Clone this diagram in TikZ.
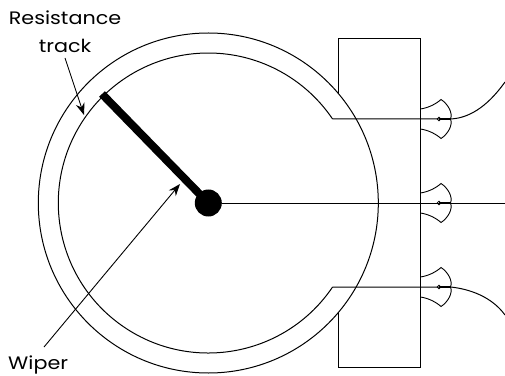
\documentclass[tikz,border=0pt]{standalone}
\usepackage{fontspec}
\setmainfont{Poppins}
\usetikzlibrary{arrows.meta, positioning, calc}
\tikzset{
  wire/.style={line width=1pt},
  pointer/.style={line width=0.9pt, -{Stealth[length=12pt, width=9pt, inset=4pt]}},
  caption/.style={font=\fontsize{18}{20}\selectfont, xscale=1.15, inner sep=0pt},
  lobe/.style={line width=0.9pt},
}
\begin{document}
\begin{tikzpicture}[x=1pt, y=1pt]
  \useasboundingbox (0,0) rectangle (505,375);
  \coordinate (centre) at (208.3,172);
  % two track edges
  \draw[wire] (centre) circle[radius=170];
  \coordinate (innerlow) at ($(centre)+(-34.06:150)$);
  \coordinate (innerup) at ($(centre)+(34.06:150)$);
  \draw[wire] (innerlow) arc[start angle=-34.06, end angle=-325.94, radius=150];
  % body at the right
  \draw[wire] (338.3,282) -- (338.3,336) -- (420.3,336) -- (420.3,7.3) -- (338.3,7.3) -- (338.3,63.3);
  % wires and terminals
  \coordinate (rightup) at (505,293);
  \coordinate (rightmid) at (505,172);
  \coordinate (rightlow) at (505,60);
  \foreach \name/\py in {up/256, mid/172, low/88}{%
    \coordinate (term\name) at (450.5,\py);
    \coordinate (pin\name) at (439,\py);
    \draw[lobe] (420.3,\py+10) .. controls (428,\py+11) and (436,\py+15) .. (441,\py+19.5)
      .. controls (448,\py+15) and (453,\py+6) .. (term\name)
      .. controls (453,\py-6) and (448,\py-15) .. (441,\py-19.5)
      .. controls (436,\py-15) and (428,\py-11) .. (420.3,\py-10);
    \draw[line width=0.7pt] (pin\name) circle[radius=1.8];
    \draw[line width=1.3pt] (pin\name) -- (term\name);}
  \draw[wire] (innerup) -- (termup) .. controls (472,257) and (490,272) .. (rightup);
  \draw[wire] (innerlow) -- (termlow) .. controls (470,86) and (492,78) .. (rightlow);
  % wiper
  \node[circle, fill=black, minimum size=27pt, inner sep=0pt] (hub) at (centre) {};
  \coordinate (armtip) at (102,281);
  \draw[line width=8pt] (hub.center) -- (armtip);
  \draw[wire] (hub) -- (rightmid);
  % labels
  \node[caption] (tracklabel) at (65,357) {Resistance};
  \node[caption, anchor=center] (tracklabeltwo) at (65,329) {track};
  \node[caption, anchor=west] (wiperlabel) at (8,10) {Wiper};
  \coordinate (trackstart) at (65,317);
  \coordinate (trackend) at (84,260);
  \coordinate (wiperstart) at (44,28);
  \coordinate (wiperend) at (180,191);
  \draw[pointer] (trackstart) -- (trackend);
  \draw[pointer] (wiperstart) -- (wiperend);
\end{tikzpicture}
\end{document}
